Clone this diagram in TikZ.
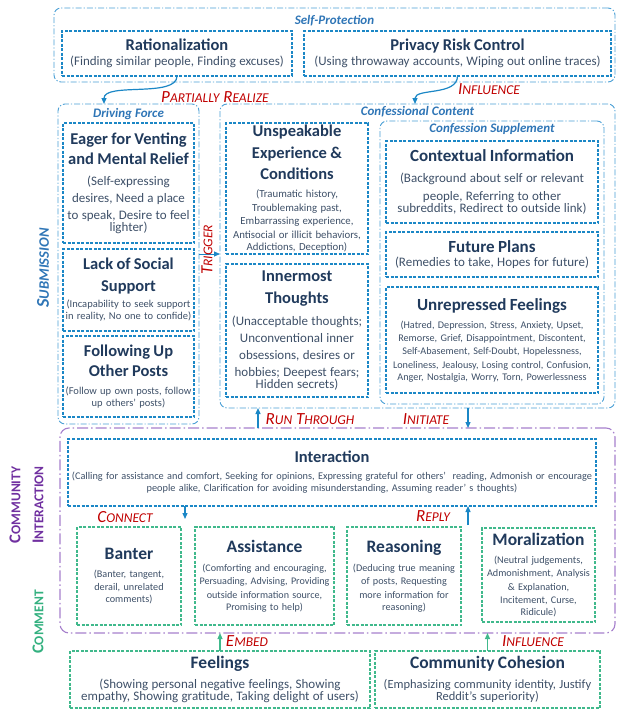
\documentclass[tikz,border=0pt]{standalone}
\usepackage{fontspec}
\setmainfont{Carlito}
\usetikzlibrary{arrows.meta}
\definecolor{lblue}{HTML}{4A9FD5}
\definecolor{mblue}{HTML}{1B87C6}
\definecolor{labblue}{HTML}{2E75B6}
\definecolor{ttlc}{HTML}{203A5C}
\definecolor{subc}{HTML}{3E5068}
\definecolor{cred}{HTML}{C00000}
\definecolor{cpurple}{HTML}{A680CC}
\definecolor{labpurple}{HTML}{7030A0}
\definecolor{cgreen}{HTML}{40B98C}
\definecolor{labgreen}{HTML}{33B07F}
\newcommand\ttlf[2]{\fontsize{#1}{#2}\selectfont\bfseries\color{ttlc}}
\newcommand\subf[2]{\fontsize{#1}{#2}\selectfont\mdseries\color{subc}\hyphenpenalty=10000 }
\newcommand\rsc[2]{{\fontsize{17}{17}\selectfont #1}{\fontsize{13.5}{13.5}\selectfont #2}}
\newcommand\bsc[2]{{\fontsize{18}{18}\selectfont #1}{\fontsize{14.5}{14.5}\selectfont #2}}
\newcommand\psc[2]{{\fontsize{16.5}{16.5}\selectfont #1}{\fontsize{13.5}{13.5}\selectfont #2}}
\tikzset{
  cont/.style={draw=lblue, line width=0.9pt, dash pattern=on 6pt off 2pt on 1.2pt off 2pt, rounded corners=7pt, inner sep=0pt, outer sep=0pt},
  pcont/.style={draw=cpurple, line width=1.1pt, dash pattern=on 11pt off 3pt on 1.5pt off 3pt, rounded corners=9pt, inner sep=0pt, outer sep=0pt},
  ibox/.style={draw=mblue, line width=1.3pt, dash pattern=on 3pt off 1.5pt, align=center, inner sep=1pt, outer sep=0pt},
  gbox/.style={ibox, draw=cgreen, line width=1.1pt},
  blab/.style={font=\fontsize{13}{15}\selectfont\bfseries\itshape, text=labblue, inner sep=0pt},
  rlab/.style={font=\fontsize{17}{17}\selectfont\itshape, text=cred, inner sep=0pt},
  arr/.style={color=mblue, line width=1.2pt, -{Triangle[length=6pt,width=5pt]}},
  garr/.style={arr, color=cgreen},
}
\begin{document}
\begin{tikzpicture}[x=1pt,y=-1pt]
\useasboundingbox (0,0) rectangle (617,709);
% containers
\node[cont, minimum width=561pt, minimum height=74pt] (selfp) at (334.5,45) {};
\node[cont, minimum width=141pt, minimum height=320pt] (drive) at (128.5,264) {};
\node[cont, minimum width=395pt, minimum height=304pt] (conf) at (417.5,256) {};
\node[cont, minimum width=224pt, minimum height=283pt] (supp) at (492,262.5) {};
\node[pcont, minimum width=555pt, minimum height=205pt] (pc) at (337.5,530.5) {};
% container labels
\node[blab] (lsp) at (334.5,21) {Self-Protection};
\node[blab] (ldf) at (128.5,114) {Driving Force};
\node[blab] (lcc) at (417.5,112) {Confessional Content};
\node[blab] (lcs) at (492,129) {Confession Supplement};
% self-protection
\node[ibox, minimum width=230pt, minimum height=45pt, text width=228pt] (rat) at (177,53.5)
  {\ttlf{16.5}{20}Rationalization\par\vspace{2.5pt}\subf{13}{18}(Finding similar people, Finding excuses)};
\node[ibox, minimum width=307pt, minimum height=45pt, text width=305pt] (priv) at (457.5,53.5)
  {\ttlf{16.5}{20}Privacy Risk Control\par\vspace{2.5pt}\subf{13}{18}(Using throwaway accounts, Wiping out online traces)};
% driving force
\node[ibox, minimum width=131pt, minimum height=120pt, text width=129pt] (eager) at (128.5,183)
  {\ttlf{16.5}{20}Eager for Venting\\and Mental Relief\par\vspace{4pt}\subf{13}{17}(Self-expressing\\desires, Need a place\\to speak, Desire to feel\\lighter)};
\node[ibox, minimum width=131pt, minimum height=82pt, text width=129pt] (lack) at (128.5,290)
  {\ttlf{16.5}{22}Lack of Social\\Support\par\vspace{2pt}\subf{10.5}{14}(Incapability to seek support\\in reality, No one to confide)};
\node[ibox, minimum width=131pt, minimum height=81pt, text width=129pt] (follow) at (128.5,376.5)
  {\ttlf{16.5}{20}Following Up\\Other Posts\par\vspace{4.5pt}\subf{10.5}{13.5}(Follow up own posts, follow\\up others' posts)};
% confessional content
\node[ibox, minimum width=142pt, minimum height=131pt, text width=140pt] (unspk) at (297,188.5)
  {\ttlf{16.5}{21.5}Unspeakable\\Experience \&\\Conditions\par\vspace{4.5pt}\subf{10.8}{13.5}(Traumatic history,\\Troublemaking past,\\Embarrassing experience,\\Antisocial or illicit behaviors,\\Addictions, Deception)};
\node[ibox, minimum width=142pt, minimum height=133pt, text width=140pt] (inner) at (297,330.5)
  {\ttlf{16.5}{22}Innermost\\Thoughts\par\vspace{5pt}\subf{13}{17}(Unacceptable thoughts;\\Unconventional inner\\obsessions, desires or\\hobbies; Deepest fears;\\Hidden secrets)};
\node[ibox, minimum width=212pt, minimum height=82pt, text width=210pt] (ctx) at (492,182)
  {\ttlf{17}{20}Contextual Information\par\vspace{3.5pt}\subf{13}{17.5}(Background about self or relevant\\people, Referring to other\\subreddits, Redirect to outside link)};
\node[ibox, minimum width=212pt, minimum height=45pt, text width=210pt] (fut) at (492,254.5)
  {\ttlf{17}{20}Future Plans\par\vspace{2.5pt}\subf{13}{17.5}(Remedies to take, Hopes for future)};
\node[ibox, minimum width=212pt, minimum height=106pt, text width=210pt] (unrep) at (492,340)
  {\ttlf{17}{20}Unrepressed Feelings\par\vspace{4.7pt}\subf{10.2}{13.3}(Hatred, Depression, Stress, Anxiety, Upset,\\Remorse, Grief, Disappointment, Discontent,\\Self-Abasement, Self-Doubt, Hopelessness,\\Loneliness, Jealousy, Losing control, Confusion,\\Anger, Nostalgia, Worry, Torn, Powerlessness};
% community interaction
\node[ibox, minimum width=528pt, minimum height=67pt, text width=526pt] (inter) at (332,472.5)
  {\ttlf{16.5}{20}Interaction\par\vspace{3pt}\subf{10.3}{14}(Calling for assistance and comfort, Seeking for opinions, Expressing grateful for others'\ \ reading, Admonish or encourage\\people alike, Clarification for avoiding misunderstanding, Assuming reader' s thoughts)};
\node[gbox, minimum width=104pt, minimum height=98pt, text width=102pt] (banter) at (129,576)
  {\ttlf{17.5}{20}Banter\par\vspace{5pt}\subf{10.2}{13}(Banter, tangent,\\derail, unrelated\\comments)};
\node[gbox, minimum width=139pt, minimum height=98pt, text width=137pt] (assist) at (264.5,576)
  {\ttlf{17.5}{20}Assistance\par\vspace{5.7pt}\subf{10.1}{13.3}(Comforting and encouraging,\\Persuading, Advising, Providing\\outside information source,\\Promising to help)};
\node[gbox, minimum width=114pt, minimum height=98pt, text width=112pt] (reason) at (404,576)
  {\ttlf{17.5}{20}Reasoning\par\vspace{5.7pt}\subf{10.2}{13.3}(Deducing true meaning\\of posts, Requesting\\more information for\\reasoning)};
\node[gbox, minimum width=113pt, minimum height=94pt, text width=111pt] (moral) at (538.5,575)
  {\ttlf{17.5}{20}Moralization\par\vspace{4.5pt}\subf{10.2}{13.5}(Neutral judgements,\\Admonishment, Analysis\\\& Explanation,\\Incitement, Curse,\\Ridicule)};
% comment
\node[gbox, minimum width=300pt, minimum height=57pt, text width=298pt] (feel) at (220,679.5)
  {\ttlf{17.5}{20}Feelings\par\vspace{3pt}\subf{13}{17}(Showing personal negative feelings, Showing\\empathy, Showing gratitude, Taking delight of users)};
\node[gbox, minimum width=225pt, minimum height=57pt, text width=223pt] (cohes) at (487.5,679.5)
  {\ttlf{17.5}{20}Community Cohesion\par\vspace{3pt}\subf{12.5}{17}(Emphasizing community identity, Justify\\Reddit’s superiority)};
% arrows
\draw[arr] (rat.south) .. controls +(0,22) and +(0,-22) .. ([xshift=-24.5pt]drive.north);
\draw[arr] (priv.south) .. controls +(0,20) and +(0,-16) .. ([xshift=-2.5pt]conf.north);
\coordinate (trg) at ([yshift=10pt]drive.east);
\draw[arr, line width=0.8pt] (trg) -- (trg -| conf.west);
\coordinate (rt) at ([xshift=-79.5pt]pc.north);
\draw[arr] (rt) -- (rt |- conf.south);
\coordinate (ini) at ([xshift=50.5pt]conf.south);
\draw[arr] (ini) -- (ini |- pc.north);
\coordinate (cn) at ([xshift=-147pt]inter.south);
\coordinate (cne) at ([yshift=-13pt]cn);
\draw[arr] (cn) -- (cne);
\coordinate (rp) at ([xshift=136pt]inter.south);
\coordinate (rps) at ([yshift=-19pt]rp);
\draw[arr] (rps) -- (rp);
\draw[garr] (feel.north) -- (feel.north |- pc.south);
\draw[garr] (cohes.north) -- (cohes.north |- pc.south);
% relation labels
\node[rlab] (lpr) at (215,97) {\rsc{P}{ARTIALLY} \rsc{R}{EALIZE}};
\node[rlab] (linf) at (489,89) {\rsc{I}{NFLUENCE}};
\node[rlab, rotate=90] (ltrg) at (207,250) {\rsc{T}{RIGGER}};
\node[rlab] (lrt) at (310,419) {\rsc{R}{UN} \rsc{T}{HROUGH}};
\node[rlab] (lini) at (426,419) {\rsc{I}{NITIATE}};
\node[rlab] (lcon) at (125,517) {\rsc{C}{ONNECT}};
\node[rlab] (lrep) at (433,516) {\rsc{R}{EPLY}};
\node[rlab] (lemb) at (247,641) {\rsc{E}{MBED}};
\node[rlab] (linf2) at (533,641) {\rsc{I}{NFLUENCE}};
% side labels
\node[rotate=90, inner sep=0pt, text=labblue, font=\fontsize{18}{18}\selectfont\bfseries\itshape] (lsub) at (43,268) {\bsc{S}{UBMISSION}};
\node[rotate=90, inner sep=0pt, align=center, text=labpurple, font=\fontsize{16.5}{23}\selectfont\bfseries] (lci) at (26.5,505) {\psc{C}{OMMUNITY}\\\psc{I}{NTERACTION}};
\node[rotate=90, inner sep=0pt, text=labgreen, font=\fontsize{16.5}{16.5}\selectfont\bfseries] (lcm) at (38,622) {\psc{C}{OMMENT}};
\end{tikzpicture}
\end{document}
